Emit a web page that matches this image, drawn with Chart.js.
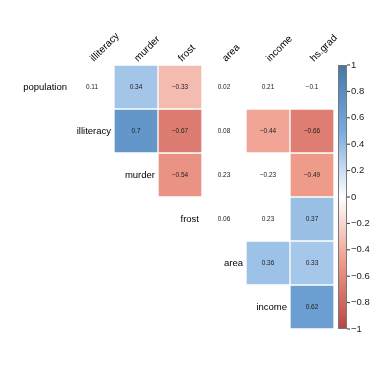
<!DOCTYPE html>
<html>
<head>
<meta charset="utf-8">
<script src="https://cdn.jsdelivr.net/npm/chart.js@4/dist/chart.umd.min.js"></script>
<style>
  html, body { margin: 0; padding: 0; background: #ffffff; }
  #wrap { width: 382px; height: 382px; }
</style>
</head>
<body>
<div id="wrap"><canvas id="corrGrafico" width="382" height="382"></canvas></div>
<script>
// linhas e colunas da matriz (triângulo superior)
const linhas = ['population', 'illiteracy', 'murder', 'frost', 'area', 'income'];
const colunas = ['illiteracy', 'murder', 'frost', 'area', 'income', 'hs.grad'];

// correlações por linha (null = abaixo da diagonal)
const rPopulation = [0.11, 0.34, -0.33, 0.02, 0.21, -0.1];
const rIlliteracy = [null, 0.7, -0.67, 0.08, -0.44, -0.66];
const rMurder     = [null, null, -0.54, 0.23, -0.23, -0.49];
const rFrost      = [null, null, null, 0.06, 0.23, 0.37];
const rArea       = [null, null, null, null, 0.36, 0.33];
const rIncome     = [null, null, null, null, null, 0.62];

// significativo? (só estas células levam cor)
const sigPopulation = [false, true, true, false, false, false];
const sigIlliteracy = [false, true, true, false, true, true];
const sigMurder     = [false, false, true, false, false, true];
const sigFrost      = [false, false, false, false, false, true];
const sigArea       = [false, false, false, false, true, true];
const sigIncome     = [false, false, false, false, false, true];

const ticksBarra = [1, 0.8, 0.6, 0.4, 0.2, 0, -0.2, -0.4, -0.6, -0.8, -1];

const valores = [rPopulation, rIlliteracy, rMurder, rFrost, rArea, rIncome];
const signif = [sigPopulation, sigIlliteracy, sigMurder, sigFrost, sigArea, sigIncome];

// paleta -1 .. 1
const paleta = ['#BB4444', '#EE9988', '#FFFFFF', '#77AADD', '#4477AA'];

function hexRgb(h) {
    return [parseInt(h.slice(1, 3), 16), parseInt(h.slice(3, 5), 16), parseInt(h.slice(5, 7), 16)];
}
function corDe(v) {
    const t = (v + 1) / 2 * (paleta.length - 1);
    const i = Math.min(Math.floor(t), paleta.length - 2);
    const f = t - i;
    const a = hexRgb(paleta[i]), b = hexRgb(paleta[i + 1]);
    const c = a.map((x, k) => Math.round(x + (b[k] - x) * f));
    return `rgb(${c[0]},${c[1]},${c[2]})`;
}
function fmt(v) {
    return String(v).replace('-', '\u2212');
}

const conjuntos = linhas.map((nome, r) => ({
    label: nome,
    data: valores[r].map((v, c) => (v !== null && signif[r][c]) ? [r, r + 1] : null),
    backgroundColor: valores[r].map(v => v === null ? 'transparent' : corDe(v)),
    borderColor: 'rgba(255,255,255,0.85)',
    borderWidth: 1,
    borderSkipped: false,
    grouped: false,
    barPercentage: 1,
    categoryPercentage: 1
}));

const FONTE = '"Liberation Sans", Arial, sans-serif';

const textosPlugin = {
    id: 'textos',
    afterDatasetsDraw(chart) {
        const ctx = chart.ctx;
        const sx = chart.scales.x, sy = chart.scales.y;
        const area = chart.chartArea;
        const larg = sx.getPixelForValue(1) - sx.getPixelForValue(0);
        ctx.save();

        // números nas células
        ctx.font = `6.5px ${FONTE}`;
        ctx.fillStyle = '#222';
        ctx.textAlign = 'center';
        ctx.textBaseline = 'middle';
        valores.forEach((linha, r) => {
            linha.forEach((v, c) => {
                if (v === null) return;
                ctx.fillText(fmt(v), sx.getPixelForValue(c), sy.getPixelForValue(r + 0.5));
            });
        });

        // rótulos das linhas na diagonal
        ctx.font = `9.5px ${FONTE}`;
        ctx.fillStyle = '#000';
        ctx.textAlign = 'right';
        linhas.forEach((nome, r) => {
            const x = sx.getPixelForValue(r) - larg / 2 - 3;
            ctx.fillText(nome, x, sy.getPixelForValue(r + 0.5));
        });

        // rótulos das colunas, rodados 45º
        ctx.font = `10px ${FONTE}`;
        ctx.textAlign = 'left';
        ctx.textBaseline = 'alphabetic';
        colunas.forEach((nome, c) => {
            ctx.save();
            ctx.translate(sx.getPixelForValue(c) + 2, area.top - 3);
            ctx.rotate(-Math.PI / 4);
            ctx.fillText(nome, 0, 0);
            ctx.restore();
        });

        // barra de cores
        const bx = area.right + 4, bw = 9;
        const grad = ctx.createLinearGradient(0, area.bottom, 0, area.top);
        paleta.forEach((p, i) => grad.addColorStop(i / (paleta.length - 1), p));
        ctx.fillStyle = grad;
        ctx.fillRect(bx, area.top, bw, area.bottom - area.top);
        ctx.strokeStyle = '#777';
        ctx.lineWidth = 1;
        ctx.strokeRect(bx + 0.5, area.top + 0.5, bw - 1, area.bottom - area.top - 1);

        ctx.font = `9.5px ${FONTE}`;
        ctx.fillStyle = '#222';
        ctx.strokeStyle = '#333';
        ctx.textAlign = 'left';
        ctx.textBaseline = 'middle';
        ticksBarra.forEach(t => {
            const y = area.top + (1 - t) / 2 * (area.bottom - area.top);
            ctx.beginPath();
            ctx.moveTo(bx + bw, y);
            ctx.lineTo(bx + bw + 3, y);
            ctx.stroke();
            ctx.fillText(fmt(t), bx + bw + 4, y);
        });
        ctx.restore();
    }
};

const ctx = document.getElementById('corrGrafico').getContext('2d');
new Chart(ctx, {
    type: 'bar',
    data: {
        labels: colunas,
        datasets: conjuntos
    },
    options: {
        responsive: false,
        animation: false,
        layout: {
            padding: { left: 70, right: 48, top: 65, bottom: 53 }
        },
        scales: {
            x: {
                type: 'category',
                display: false,
                offset: true
            },
            y: {
                type: 'linear',
                display: false,
                min: 0,
                max: 6,
                reverse: true
            }
        },
        plugins: {
            legend: { display: false },
            tooltip: { enabled: false }
        }
    },
    plugins: [textosPlugin]
});
</script>
</body>
</html>
